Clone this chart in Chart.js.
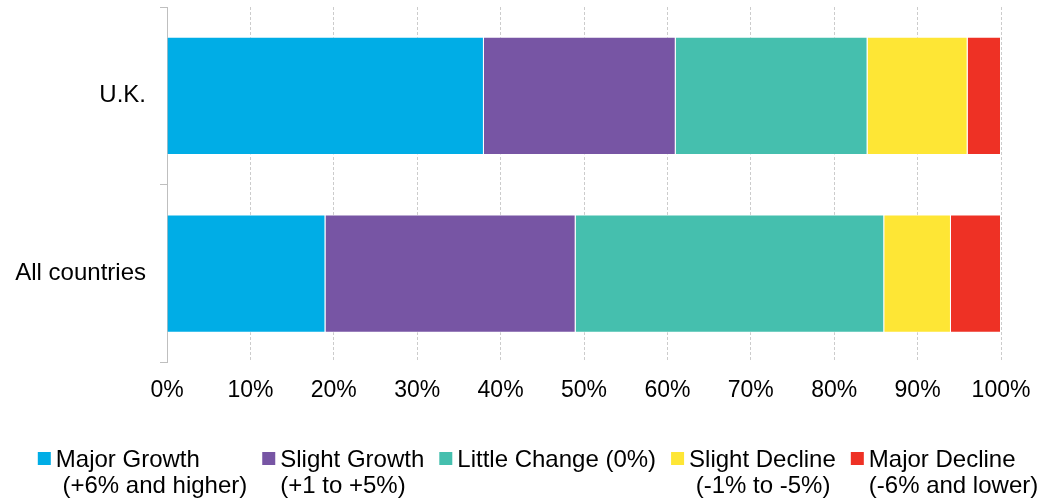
<!DOCTYPE html>
<html>
<head>
<meta charset="utf-8">
<script src="https://cdn.jsdelivr.net/npm/chart.js@4.4.1/dist/chart.umd.min.js"></script>
<style>
  html, body { margin: 0; padding: 0; background: #ffffff; }
  #wrap { width: 1056px; height: 503px; position: relative; }
</style>
</head>
<body>
<div id="wrap"><canvas id="chart"></canvas></div>
<script>
// Regions compared
const categories = ['U.K.', 'All countries'];

// Share of respondents in each outlook band (%)
const majorGrowth   = [38, 19];
const slightGrowth  = [23, 30];
const littleChange  = [23, 37];
const slightDecline = [12, 8];
const majorDecline  = [4, 6];

// Legend text (two lines where needed)
const seriesLabels = [
  ['Major Growth', ' (+6% and higher)'],
  ['Slight Growth', '(+1 to +5%)'],
  ['Little Change (0%)'],
  ['Slight Decline', ' (-1% to -5%)'],
  ['Major Decline', '(-6% and lower)']
];
const seriesColors = ['#00ade6', '#7755a4', '#45bfae', '#fee635', '#ee3125'];

// X axis ticks
const xTicks = [0, 10, 20, 30, 40, 50, 60, 70, 80, 90, 100];

const FONT = '"Liberation Sans", Arial, sans-serif';

const seriesValues = [majorGrowth, slightGrowth, littleChange, slightDecline, majorDecline];
const datasets = seriesValues.map((vals, i) => ({
  label: seriesLabels[i].join(' '),
  data: vals,
  backgroundColor: seriesColors[i],
  borderColor: 'rgba(255,255,255,0.55)',
  borderWidth: 1,
  borderSkipped: 'start',
  barPercentage: 0.665,
  categoryPercentage: 1.0
}));

// Bottom legend with multi-line entries
const bottomLegend = {
  id: 'bottomLegend',
  afterDraw(chart) {
    const ctx = chart.ctx;
    const fontSize = 24;
    const box = 13, boxGap = 5, itemGap = 15, lineH = 26;
    ctx.save();
    ctx.font = fontSize + 'px ' + FONT;
    const widths = seriesLabels.map(lines => Math.max(...lines.map(l => ctx.measureText(l).width)));
    const total = widths.reduce((a, w) => a + box + boxGap + w, 0) + itemGap * (widths.length - 1);
    let x = chart.width / 2 + 10 - total / 2;
    const top = 452;
    ctx.textBaseline = 'alphabetic';
    ctx.textAlign = 'left';
    seriesLabels.forEach((lines, i) => {
      ctx.fillStyle = seriesColors[i];
      ctx.fillRect(x, top, box, box);
      ctx.fillStyle = '#000000';
      lines.forEach((l, j) => {
        ctx.fillText(l, x + box + boxGap, top + 15 + j * lineH);
      });
      x += box + boxGap + widths[i] + itemGap;
    });
    ctx.restore();
  }
};

new Chart(document.getElementById('chart'), {
  type: 'bar',
  data: { labels: categories, datasets },
  options: {
    indexAxis: 'y',
    responsive: true,
    maintainAspectRatio: false,
    animation: false,
    layout: { padding: { left: 0, right: 55, top: 7, bottom: 85 } },
    plugins: {
      legend: { display: false },
      tooltip: { enabled: false }
    },
    scales: {
      x: {
        stacked: true,
        min: 0,
        max: 100,
        afterBuildTicks(scale) { scale.ticks = xTicks.map(v => ({ value: v })); },
        grid: { color: '#cccccc', lineWidth: 1, drawTicks: false },
        border: { display: false, dash: [3, 2] },
        ticks: {
          padding: 14,
          color: '#000000',
          font: { family: FONT, size: 23 },
          callback: v => v + '%'
        }
      },
      y: {
        stacked: true,
        afterFit(scale) {
          scale.width = 167;
          scale.paddingTop = 0;
          scale.paddingBottom = 0;
        },
        grid: { offset: true, drawOnChartArea: false, drawTicks: true, tickLength: 7, color: '#bfbfbf' },
        border: { display: true, color: '#bfbfbf', width: 1 },
        ticks: {
          padding: 14,
          color: '#000000',
          font: { family: FONT, size: 24 }
        }
      }
    }
  },
  plugins: [bottomLegend]
});
</script>
</body>
</html>
